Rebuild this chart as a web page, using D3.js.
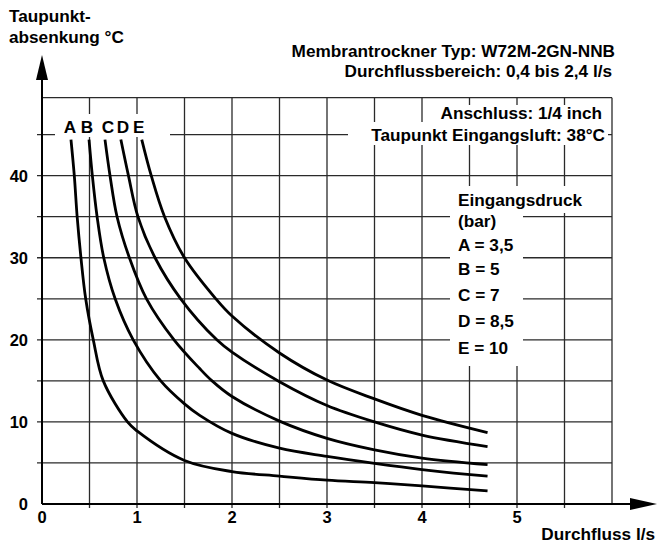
<!DOCTYPE html>
<html>
<head>
<meta charset="utf-8">
<script src="https://cdn.jsdelivr.net/npm/d3@7"></script>
<style>
  html, body { margin: 0; padding: 0; background: #fff; }
  svg text { font-family: "Liberation Sans", Arial, Helvetica, sans-serif; font-weight: bold; fill: #000; }
</style>
</head>
<body>
<svg id="chart" width="657" height="546"></svg>
<script>
// ---- data (flow l/s -> dew point depression °C) ----
const curveLabels = ["A", "B", "C", "D", "E"];
const pressureLabels = ["A = 3,5", "B = 5", "C = 7", "D = 8,5", "E = 10"];

const flowA = [0.305, 0.34, 0.37, 0.41, 0.46, 0.54, 0.645, 0.9, 1.0, 1.5, 2.0, 2.5, 3.0, 3.5, 4.0, 4.69];
const dropA = [44.4, 40, 35, 30, 25, 20, 15, 10, 8.9, 5.3, 3.95, 3.4, 2.9, 2.6, 2.2, 1.6];

const flowB = [0.495, 0.53, 0.58, 0.65, 0.77, 0.96, 1.25, 1.5, 1.66, 2.0, 2.5, 3.0, 3.5, 4.0, 4.69];
const dropB = [44.4, 40, 35, 30, 25, 20, 15, 12.2, 10.8, 8.6, 6.8, 5.8, 4.95, 4.2, 3.4];

const flowC = [0.663, 0.716, 0.79, 0.92, 1.10, 1.39, 1.66, 1.79, 2.0, 2.5, 3.0, 3.5, 4.0, 4.69];
const dropC = [44.4, 40, 35, 30, 25, 20, 16.5, 15, 13.1, 10.1, 8.0, 6.6, 5.6, 4.8];

const flowD = [0.83, 0.91, 1.01, 1.19, 1.46, 1.84, 2.0, 2.5, 3.0, 3.5, 4.0, 4.69];
const dropD = [44.4, 40, 35, 30, 25, 20, 18.5, 14.9, 12.0, 10.0, 8.4, 7.0];

const flowE = [1.05, 1.15, 1.29, 1.5, 1.83, 2.0, 2.5, 3.0, 3.5, 4.0, 4.69];
const dropE = [44.4, 40, 35, 30, 25, 22.9, 18.4, 15.1, 12.8, 10.8, 8.7];

const xTicks = [0, 1, 2, 3, 4, 5];
const yTicks = [0, 10, 20, 30, 40];
const xGrid = [0.5, 1, 1.5, 2, 2.5, 3, 3.5, 4, 4.5, 5, 5.5, 6];
const yGrid = [5, 10, 15, 20, 25, 30, 35, 40, 45];
const yMax = 49.5;

const yTitle = ["Taupunkt-", "absenkung °C"];
const xTitle = "Durchfluss l/s";
const headLines = ["Membrantrockner Typ: W72M-2GN-NNB", "Durchflussbereich: 0,4 bis 2,4 l/s"];
const infoLines = ["Anschluss: 1/4 inch", "Taupunkt Eingangsluft: 38°C"];
const legendHead = ["Eingangsdruck", "(bar)"];

const FS = 17.2;

// ---- scales ----
const svg = d3.select("#chart");
const x = d3.scaleLinear().domain([0, 6]).range([42, 612]);
const y = d3.scaleLinear().domain([0, yMax]).range([504, 97.7]);

// ---- grid ----
const grid = svg.append("g").attr("stroke", "#2a2a2a").attr("stroke-width", 1.3);
grid.selectAll("line.v").data(xGrid).enter().append("line")
  .attr("x1", d => x(d)).attr("x2", d => x(d))
  .attr("y1", y(yMax)).attr("y2", d => d < 6 ? y(0) + 4 : y(0));
grid.selectAll("line.h").data(yGrid).enter().append("line")
  .attr("x1", x(0) - 5).attr("x2", x(6))
  .attr("y1", d => y(d)).attr("y2", d => y(d));
grid.append("line").attr("x1", x(0)).attr("x2", x(6)).attr("y1", y(yMax)).attr("y2", y(yMax));

// white boxes behind annotation texts (masking the grid)
const mask = svg.append("g").attr("fill", "#fff");
mask.append("rect").attr("x", 55).attr("y", 114).attr("width", 115).attr("height", 23);
mask.append("rect").attr("x", 424).attr("y", 105).attr("width", 184).attr("height", 17);
mask.append("rect").attr("x", 348).attr("y", 122).attr("width", 260).attr("height", 23);
mask.append("rect").attr("x", 450).attr("y", 186).attr("width", 138).attr("height", 27);
mask.append("rect").attr("x", 450).attr("y", 213).attr("width", 73).attr("height", 153);

// ---- axes ----
const ax = svg.append("g").attr("stroke", "#000").attr("stroke-width", 2);
ax.append("line").attr("x1", x(0)).attr("x2", 632).attr("y1", y(0)).attr("y2", y(0));
ax.append("line").attr("x1", x(0)).attr("x2", x(0)).attr("y1", y(0)).attr("y2", 76);
svg.append("path").attr("fill", "#000")
  .attr("d", `M${x(0)},55 L${x(0) - 6},80 L${x(0) + 6},80 Z`);
svg.append("path").attr("fill", "#000")
  .attr("d", `M657,${y(0)} L630,${y(0) - 6} L630,${y(0) + 6} Z`);

// tick labels
svg.append("g").selectAll("text").data(xTicks).enter().append("text")
  .attr("x", d => x(d)).attr("y", 523).attr("text-anchor", "middle")
  .attr("font-size", 16.5).text(d => d);
svg.append("g").selectAll("text").data(yTicks).enter().append("text")
  .attr("x", 28).attr("y", d => y(d) + 6).attr("text-anchor", "end")
  .attr("font-size", 16.5).text(d => d);

// ---- curves ----
const series = [
  [flowA, dropA], [flowB, dropB], [flowC, dropC], [flowD, dropD], [flowE, dropE]
].map(([fx, fy]) => fx.map((v, i) => [v, fy[i]]));
const line = d3.line().x(d => x(d[0])).y(d => y(d[1])).curve(d3.curveCatmullRom.alpha(0.5));
svg.append("g").selectAll("path").data(series).enter().append("path")
  .attr("d", line).attr("fill", "none").attr("stroke", "#000")
  .attr("stroke-width", 2.8).attr("stroke-linecap", "butt");

// curve labels at start of each curve
svg.append("g").selectAll("text").data(series).enter().append("text")
  .attr("x", (d, i) => x(d[0][0]) + [-1, -2, 3, 2, -3][i])
  .attr("y", 133).attr("text-anchor", "middle").attr("font-size", FS)
  .text((d, i) => curveLabels[i]);

// ---- titles ----
svg.append("text").attr("x", 9).attr("y", 22).attr("font-size", FS).text(yTitle[0]);
svg.append("text").attr("x", 9).attr("y", 43).attr("font-size", FS).text(yTitle[1]);
svg.append("text").attr("x", 655).attr("y", 540).attr("text-anchor", "end").attr("font-size", FS).text(xTitle);

svg.append("text").attr("x", 615).attr("y", 57).attr("text-anchor", "end").attr("font-size", FS).text(headLines[0]);
svg.append("text").attr("x", 612).attr("y", 77).attr("text-anchor", "end").attr("font-size", FS).text(headLines[1]);
svg.append("text").attr("x", 602).attr("y", 119).attr("text-anchor", "end").attr("font-size", FS).text(infoLines[0]);
svg.append("text").attr("x", 605).attr("y", 141).attr("text-anchor", "end").attr("font-size", FS).text(infoLines[1]);

// ---- legend ----
svg.append("text").attr("x", 458).attr("y", 206).attr("font-size", FS).text(legendHead[0]);
svg.append("text").attr("x", 458).attr("y", 227).attr("font-size", FS).text(legendHead[1]);
const legY = [251, 275, 301, 327, 354];
svg.append("g").selectAll("text").data(pressureLabels).enter().append("text")
  .attr("x", 458).attr("y", (d, i) => legY[i]).attr("font-size", FS).text(d => d);
</script>
</body>
</html>
